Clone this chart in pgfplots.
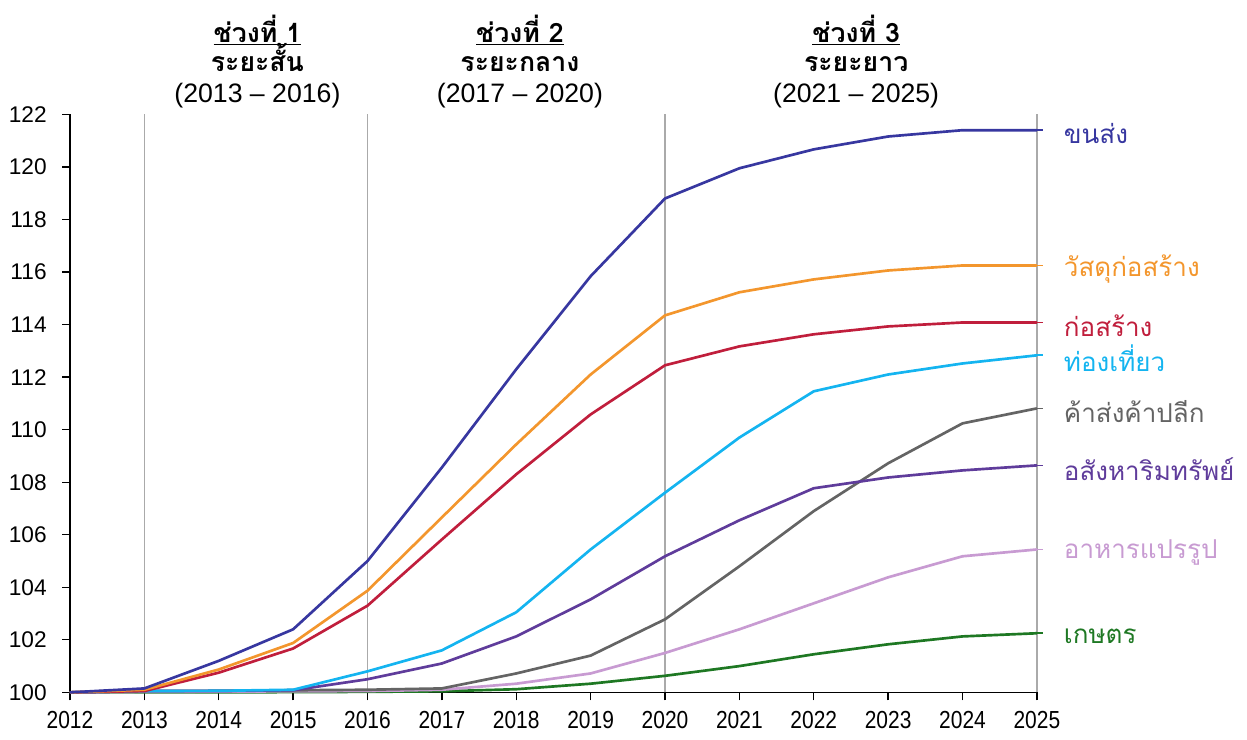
\documentclass[border=0pt]{standalone}
\usepackage{pgfplots}
\usepackage{pgfplotstable}
\pgfplotsset{compat=1.18}
\usepackage{fontspec}
\setmainfont{Liberation Sans}
\newfontfamily\thaifont[Script=Thai]{Loma}
\newfontfamily\narrowfont[FakeStretch=0.85]{Liberation Sans}

\definecolor{cTransport}{RGB}{55,55,160}
\definecolor{cMaterial}{RGB}{243,150,45}
\definecolor{cConstruct}{RGB}{192,30,60}
\definecolor{cTourism}{RGB}{20,180,240}
\definecolor{cRetail}{RGB}{100,100,100}
\definecolor{cEstate}{RGB}{95,60,155}
\definecolor{cFood}{RGB}{200,155,210}
\definecolor{cAgri}{RGB}{30,120,35}
\definecolor{cGrid}{RGB}{170,170,170}

% index values by sector, base year 2012 = 100
\pgfplotstableread{
year transport material construct tourism retail estate food agri
2012 100.00 100.00 100.00 100.00 100.00 100.00 100.00 100.00
2013 100.15 100.10 100.05 100.05 100.05 100.05 100.02 100.00
2014 101.20 100.87 100.75 100.06 100.06 100.05 100.03 100.00
2015 102.40 101.88 101.67 100.10 100.08 100.08 100.04 100.01
2016 105.00 103.87 103.30 100.80 100.10 100.50 100.05 100.02
2017 108.56 106.66 105.82 101.60 100.15 101.10 100.10 100.04
2018 112.30 109.44 108.30 103.05 100.72 102.13 100.33 100.12
2019 115.84 112.10 110.58 105.44 101.40 103.54 100.72 100.33
2020 118.80 114.35 112.45 107.60 102.78 105.18 101.50 100.63
2021 119.95 115.23 113.17 109.70 104.80 106.55 102.40 101.00
2022 120.67 115.72 113.63 111.46 106.90 107.77 103.39 101.45
2023 121.16 116.06 113.93 112.10 108.72 108.18 104.38 101.83
2024 121.40 116.25 114.08 112.52 110.24 108.45 105.18 102.13
2025 121.40 116.25 114.08 112.83 110.81 108.64 105.44 102.25
}\datatable

\tikzset{
  endlabel/.style={anchor=west, yshift=-2.5pt, font=\thaifont\fontsize{19.5}{21}\selectfont},
  headA/.style={anchor=base, inner sep=0pt, text height=13pt, text depth=2pt,
    font=\thaifont\bfseries\fontsize{20}{22}\selectfont},
  headB/.style={anchor=base, inner sep=0pt, text height=13pt, text depth=3pt,
    font=\fontsize{20}{22}\selectfont},
}

\begin{document}
\begin{tikzpicture}
\begin{axis}[
  scale only axis,
  width=725.25pt, height=433.5pt,
  xmin=2012, xmax=2025, ymin=100, ymax=122,
  xtick={2012,2013,2014,2015,2016,2017,2018,2019,2020,2021,2022,2023,2024,2025},
  ytick={100,102,104,106,108,110,112,114,116,118,120,122},
  axis x line*=bottom, axis y line*=left,
  axis line style={black, line width=1.1pt},
  tick style={black, line width=1pt},
  tick align=outside, major tick length=6pt,
  xticklabel style={font=\narrowfont\fontsize{18.5}{20}\selectfont, yshift=-5pt},
  yticklabel style={font=\fontsize{17}{18}\selectfont, xshift=-8pt},
  /pgf/number format/assume math mode=true,
  /pgf/number format/1000 sep={},
  clip=false,
  every axis plot/.append style={line width=2pt, line join=round},
]
  % period dividers
  \draw[cGrid, line width=1.1pt] (axis cs:2013,100) -- (axis cs:2013,122);
  \draw[cGrid, line width=1.1pt] (axis cs:2016,100) -- (axis cs:2016,122);
  \draw[cGrid, line width=1.1pt] (axis cs:2020,100) -- (axis cs:2020,122);
  \draw[cGrid, line width=1.1pt] (axis cs:2025,100) -- (axis cs:2025,122);

  \addplot[cAgri, no marks] table[x=year, y=agri] {\datatable};
  \addplot[cFood, no marks] table[x=year, y=food] {\datatable};
  \addplot[cRetail, no marks] table[x=year, y=retail] {\datatable};
  \addplot[cEstate, no marks] table[x=year, y=estate] {\datatable};
  \addplot[cTourism, no marks] table[x=year, y=tourism] {\datatable};
  \addplot[cConstruct, no marks] table[x=year, y=construct] {\datatable};
  \addplot[cMaterial, no marks] table[x=year, y=material] {\datatable};
  \addplot[cTransport, no marks] table[x=year, y=transport] {\datatable};

  % end-of-line labels with short leaders
  \draw[cTransport, line width=1.3pt] (axis cs:2025,121.40) -- (axis cs:2025.08,121.40);
  \draw[cMaterial, line width=1.3pt] (axis cs:2025,116.25) -- (axis cs:2025.08,116.25);
  \draw[cConstruct, line width=1.3pt] (axis cs:2025,114.08) -- (axis cs:2025.08,114.08);
  \draw[cTourism, line width=1.3pt] (axis cs:2025,112.83) -- (axis cs:2025.08,112.83);
  \draw[cRetail, line width=1.3pt] (axis cs:2025,110.81) -- (axis cs:2025.08,110.81);
  \draw[cEstate, line width=1.3pt] (axis cs:2025,108.64) -- (axis cs:2025.08,108.64);
  \draw[cFood, line width=1.3pt] (axis cs:2025,105.44) -- (axis cs:2025.08,105.44);
  \draw[cAgri, line width=1.3pt] (axis cs:2025,102.25) -- (axis cs:2025.08,102.25);

  \node[endlabel, text=cTransport] at (axis cs:2025.3,121.40) {ขนส่ง};
  \node[endlabel, text=cMaterial] at (axis cs:2025.3,116.25) {วัสดุก่อสร้าง};
  \node[endlabel, text=cConstruct] at (axis cs:2025.3,114.08) {ก่อสร้าง};
  \node[endlabel, text=cTourism] at (axis cs:2025.3,112.83) {ท่องเที่ยว};
  \node[endlabel, text=cRetail] at (axis cs:2025.3,110.81) {ค้าส่งค้าปลีก};
  \node[endlabel, text=cEstate] at (axis cs:2025.3,108.64) {อสังหาริมทรัพย์};
  \node[endlabel, text=cFood] at (axis cs:2025.3,105.44) {อาหารแปรรูป};
  \node[endlabel, text=cAgri] at (axis cs:2025.3,102.25) {เกษตร};

  % period headings
  \node[headA] at (axis cs:2014.52,124.74) {\underline{ช่วงที่ 1}};
  \node[headA] at (axis cs:2014.52,123.62) {ระยะสั้น};
  \node[headB] at (axis cs:2014.52,122.44) {(2013 -- 2016)};
  \node[headA] at (axis cs:2018.05,124.74) {\underline{ช่วงที่ 2}};
  \node[headA] at (axis cs:2018.05,123.62) {ระยะกลาง};
  \node[headB] at (axis cs:2018.05,122.44) {(2017 -- 2020)};
  \node[headA] at (axis cs:2022.57,124.74) {\underline{ช่วงที่ 3}};
  \node[headA] at (axis cs:2022.57,123.62) {ระยะยาว};
  \node[headB] at (axis cs:2022.57,122.44) {(2021 -- 2025)};

  % frame of the whole figure
  \path[use as bounding box] (axis cs:2011.059,98.211) rectangle (axis cs:2027.825,126.356);
\end{axis}
\end{tikzpicture}
\end{document}
